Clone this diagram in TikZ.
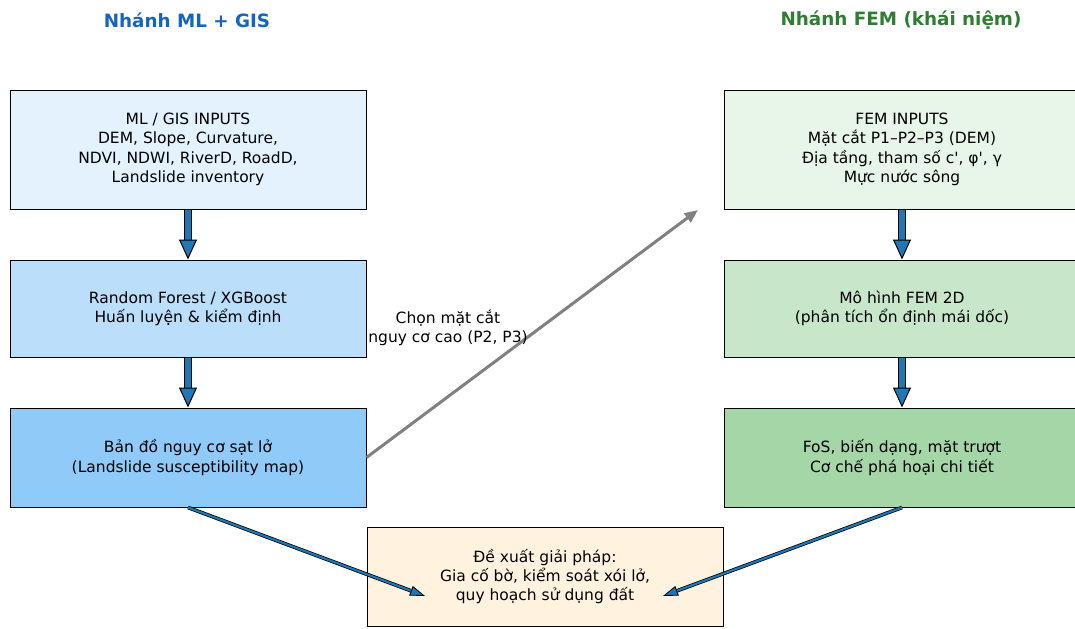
\documentclass[tikz,border=0pt]{standalone}
\usepackage{fontspec}
\setmainfont[Ligatures=TeXOff]{DejaVu Sans}
\usetikzlibrary{positioning,arrows.meta}
\definecolor{mlblue}{HTML}{1565C0}
\definecolor{femgreen}{HTML}{2E7D32}
\definecolor{tabblue}{HTML}{1F77B4}
\definecolor{mlA}{HTML}{E3F2FD}
\definecolor{mlB}{HTML}{BBDEFB}
\definecolor{mlC}{HTML}{90CAF9}
\definecolor{femA}{HTML}{E8F5E9}
\definecolor{femB}{HTML}{C8E6C9}
\definecolor{femC}{HTML}{A5D6A7}
\definecolor{propfill}{HTML}{FFF3E0}
\begin{document}
\begin{tikzpicture}[
x=0.6pt, y=-0.6pt,
box/.style={draw, line width=0.6pt, align=center, inner sep=0pt, minimum width=213.6pt, font=\fontsize{9.3}{11.6}\selectfont},
head/.style={font=\fontsize{11}{13}\selectfont\bfseries},
fatarr/.style={draw=black, line width=0.5pt, double=tabblue, double distance=3.8pt, -{Triangle[length=12pt, width=10.8pt, fill=tabblue, line width=0.6pt]}},
diagarr/.style={draw=black, line width=0.45pt, double=tabblue, double distance=1.3pt, -{Triangle[length=9pt, width=6pt, fill=tabblue, line width=0.5pt]}},
pickarr/.style={draw=gray, line width=1.8pt, -{Triangle[length=8pt, width=6.5pt]}}
]
\clip (0,0) rectangle (1075,628);

\node[head, text=mlblue] (tml) at (187,20) {Nhánh ML + GIS};
\node[head, text=femgreen] (tfem) at (901,20) {Nhánh FEM (khái niệm)};

\node[box, fill=mlA, minimum height=71.4pt] (mlin) at (188,149.5) {ML / GIS INPUTS\\DEM, Slope, Curvature,\\NDVI, NDWI, RiverD, RoadD,\\Landslide inventory};
\node[box, fill=mlB, minimum height=58.2pt] (rf) at (188,308.5) {Random Forest / XGBoost\\Huấn luyện \& kiểm định};
\node[box, fill=mlC, minimum height=59.4pt] (map) at (188,457.5) {Bản đồ nguy cơ sạt lở\\(Landslide susceptibility map)};

\node[box, fill=femA, minimum height=71.4pt] (femin) at (902,149.5) {FEM INPUTS\\Mặt cắt P1–P2–P3 (DEM)\\Địa tầng, tham số c', φ', γ\\Mực nước sông};
\node[box, fill=femB, minimum height=58.2pt] (fem) at (902,308.5) {Mô hình FEM 2D\\(phân tích ổn định mái dốc)};
\node[box, fill=femC, minimum height=59.4pt] (fos) at (902,457.5) {FoS, biến dạng, mặt trượt\\Cơ chế phá hoại chi tiết};

\node[box, fill=propfill, minimum height=59.4pt] (prop) at (545,576.5) {Đề xuất giải pháp:\\Gia cố bờ, kiểm soát xói lở,\\quy hoạch sử dụng đất};

\coordinate (propL) at (425,596);
\coordinate (propR) at (663,596);
\coordinate (pickend) at (698,210);

\draw[fatarr] (mlin) -- (rf);
\draw[fatarr] (rf) -- (map);
\draw[fatarr] (femin) -- (fem);
\draw[fatarr] (fem) -- (fos);

\draw[pickarr] (map.east) -- (pickend);
\node[align=center, font=\fontsize{9.3}{11.6}\selectfont] (pick) at (448,328) {Chọn mặt cắt\\nguy cơ cao (P2, P3)};

\draw[diagarr] (map.south) -- (propL);
\draw[diagarr] (fos.south) -- (propR);
\end{tikzpicture}
\end{document}
